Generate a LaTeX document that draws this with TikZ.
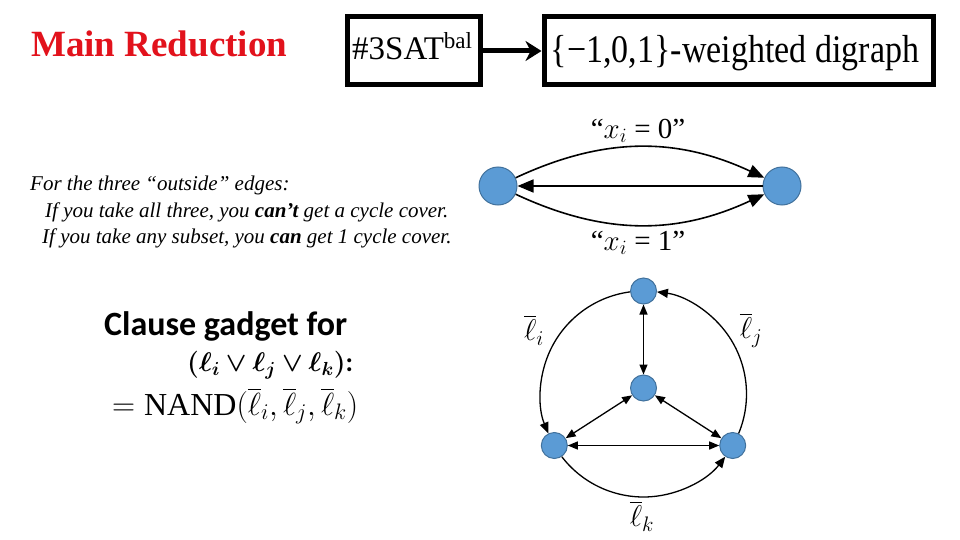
\RequirePackage{fix-cm}
\documentclass[tikz,border=0pt]{standalone}
\usepackage{amsmath}
\usepackage{bm}
\usepackage{fontspec}
\setmainfont{Liberation Serif}
\newfontfamily\calib{Carlito}
\usetikzlibrary{arrows.meta}
\definecolor{titlered}{RGB}{226,18,28}
\definecolor{nodefill}{RGB}{91,155,213}
\definecolor{nodeline}{RGB}{65,113,156}
\tikzset{
  vtx/.style={circle,fill=nodefill,draw=nodeline,line width=1pt,inner sep=0pt},
  bigvtx/.style={vtx,minimum size=38pt},
  smallvtx/.style={vtx,minimum size=26pt},
  bigarr/.style={line width=1.6pt,-{Triangle[length=16pt,width=13pt]}},
  smallarr/.style={line width=1.3pt,-{Triangle[length=11pt,width=9pt]}},
  dblarr/.style={line width=1.3pt,{Triangle[length=10pt,width=8pt]}-{Triangle[length=10pt,width=8pt]}},
  frame/.style={draw,line width=5pt,inner sep=0pt},
  lbl/.style={inner sep=0pt}
}
\begin{document}
\begin{tikzpicture}[x=1pt,y=-1pt]
\useasboundingbox (0,0) rectangle (960,540);
% title
\node[lbl,anchor=base west,text=titlered] (title) at (31,57)
  {\fontsize{37}{40}\selectfont\bfseries Main Reduction};
% boxes
\node[frame,minimum width=133pt,minimum height=68pt] (b1) at (413.5,51) {};
\node[frame,minimum width=389pt,minimum height=68pt] (b2) at (738.5,51) {};
\node[lbl,anchor=base west] (t1) at (352,60)
  {\fontsize{33}{36}\selectfont \#3SAT\textsuperscript{bal}};
\node[lbl,anchor=base] (t2) at (735,63)
  {\scalebox{1}[1.15]{\fontsize{34}{38}\selectfont \{\textminus1,0,1\}-weighted digraph}};
\draw[line width=5pt,-{Stealth[length=16pt,width=20pt]}] (b1.east) -- (b2.west);
% explanation
\node[lbl,anchor=base west] (e1) at (30,190)
  {\fontsize{21}{24}\selectfont\itshape For the three “outside” edges:};
\node[lbl,anchor=base west] (e2) at (45,217)
  {\fontsize{21}{24}\selectfont\itshape If you take all three, you \textbf{can’t} get a cycle cover.};
\node[lbl,anchor=base west] (e3) at (42,243)
  {\fontsize{21}{24}\selectfont\itshape If you take any subset, you \textbf{can} get 1 cycle cover.};
% variable gadget
\node[bigvtx] (L) at (498,186) {};
\node[bigvtx] (R) at (782,186) {};
\draw[bigarr] (L) to[out=-25,in=-155] (R);
\draw[bigarr] (L) to[out=25,in=155] (R);
\draw[bigarr] (R) -- (L);
\node[lbl] (x0) at (638,131) {\fontsize{29}{30}\selectfont “$x_i$ = 0”};
\node[lbl] (x1) at (638,243) {\fontsize{29}{30}\selectfont “$x_i$ = 1”};
% clause gadget text
\node[lbl,anchor=base west] (c1) at (104,335)
  {\fontsize{34}{38}\selectfont\calib\bfseries Clause gadget for};
\node[lbl,anchor=base west] (c2) at (187,371)
  {\fontsize{27}{30}\selectfont $\bm{(\ell_i \vee \ell_j \vee \ell_k)}$\calib\bfseries :};
\node[lbl,anchor=base west] (c3) at (112,415)
  {\fontsize{32}{36}\selectfont $= \mathrm{NAND}(\overline{\ell}_i, \overline{\ell}_j, \overline{\ell}_k)$};
% clause gadget graph (nodes on a circle of radius 103 about O)
\coordinate (O) at (643.5,394);
\node[smallvtx] (T) at ([shift={(270:103)}]O) {};
\node[smallvtx] (C) at (643.5,388) {};
\node[smallvtx] (BL) at ([shift={(150:103)}]O) {};
\node[smallvtx] (BR) at ([shift={(30:103)}]O) {};
\draw[smallarr] ([shift={(262.5:103)}]O) arc[start angle=262.5,end angle=157.5,radius=103];
\draw[smallarr] ([shift={(22.5:103)}]O) arc[start angle=22.5,end angle=-82.5,radius=103];
\draw[smallarr] ([shift={(142.5:103)}]O) arc[start angle=142.5,end angle=37.5,radius=103];
\draw[dblarr] (T) -- (C);
\draw[dblarr] (C) -- (BL);
\draw[dblarr] (C) -- (BR);
\draw[dblarr] (BL) -- (BR);
\node[lbl] (li) at (534,330) {\fontsize{30}{32}\selectfont $\overline{\ell}_i$};
\node[lbl] (lj) at (751,330) {\fontsize{30}{32}\selectfont $\overline{\ell}_j$};
\node[lbl] (lk) at (642,516) {\fontsize{30}{32}\selectfont $\overline{\ell}_k$};
\end{tikzpicture}
\end{document}
